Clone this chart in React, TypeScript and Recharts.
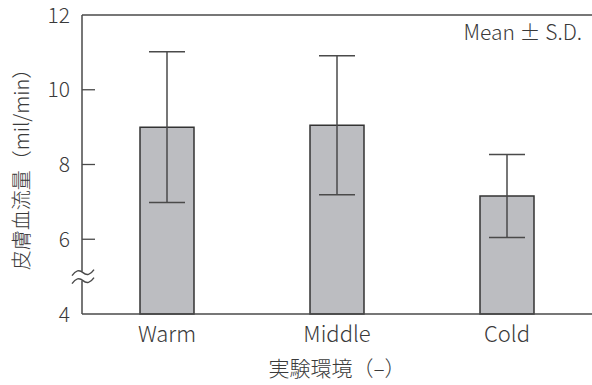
import React from "react";
import { BarChart, Bar, XAxis, YAxis, ErrorBar, ReferenceLine, Label } from "recharts";

// Skin blood flow by experimental environment (mean ± S.D.)
const conditions = ["Warm", "Middle", "Cold"];
const meanFlow = [9.0, 9.05, 7.16];
const sdFlow = [2.02, 1.86, 1.11];
const yTicks = [4, 5, 6, 8, 10, 12];
const breakTick = 5;

const data = conditions.map((name, i) => ({ name, mean: meanFlow[i], sd: sdFlow[i] }));

const FONT = "'Noto Sans CJK JP', 'Noto Sans', sans-serif";
const TEXT = "#3a3a3a";
const LINE = "#4a4a4a";
const TICK_MARGIN = 12;

const YTick = (props: any) => {
  const { x, y, payload } = props;
  const axisX = x + TICK_MARGIN;
  if (payload.value === breakTick) {
    // axis break marker: two waves with the axis cut between them
    const x0 = axisX - 10;
    const wave = (cy: number) =>
      `M ${x0} ${cy + 3} Q ${x0 + 5.5} ${cy - 5}, ${x0 + 11} ${cy} T ${x0 + 22} ${cy - 3}`;
    return (
      <g>
        <rect x={axisX - 3} y={y - 5} width={6} height={9} fill="#fff" />
        <path d={wave(y - 4)} fill="none" stroke={LINE} strokeWidth={1.4} />
        <path d={wave(y + 4)} fill="none" stroke={LINE} strokeWidth={1.4} />
      </g>
    );
  }
  const inner = payload.value !== 4 && payload.value !== 12;
  return (
    <g>
      {inner && <line x1={axisX} x2={axisX + 13} y1={y} y2={y} stroke={LINE} strokeWidth={1.3} />}
      <text x={x} y={y} dy="0.36em" textAnchor="end" fontSize={21} fontFamily={FONT} fontWeight={300} fill={TEXT}>
        {payload.value}
      </text>
    </g>
  );
};

const YTitle = (props: any) => {
  const { viewBox } = props;
  const cx = 20;
  const cy = viewBox.y + viewBox.height / 2;
  return (
    <text
      x={cx}
      y={cy}
      transform={`rotate(-90, ${cx}, ${cy})`}
      textAnchor="middle"
      dominantBaseline="central"
      fontSize={20}
      fontFamily={FONT}
      fontWeight={300}
      fill={TEXT}
    >
      皮膚血流量（mil/min）
    </text>
  );
};

export default function App() {
  return (
    <div style={{ position: "absolute", left: 0, top: 0, background: "#fff" }}>
      <BarChart width={592} height={385} data={data} margin={{ top: 15, right: 0, bottom: 0, left: 0 }}>
        <XAxis
          dataKey="name"
          height={71}
          tickSize={0}
          tickMargin={12}
          axisLine={{ stroke: LINE, strokeWidth: 1.5 }}
          tick={{ fontSize: 22, fontFamily: FONT, fontWeight: 300, fill: TEXT }}
        >
          <Label
            value="実験環境（–）"
            position="insideBottom"
            offset={9}
            fontSize={21}
            fontFamily={FONT}
            fontWeight={300}
            fill={TEXT}
          />
        </XAxis>
        <YAxis
          width={82}
          domain={[4, 12]}
          ticks={yTicks}
          interval={0}
          tickSize={0}
          tickMargin={TICK_MARGIN}
          tickLine={false}
          axisLine={{ stroke: LINE, strokeWidth: 1.5 }}
          tick={<YTick />}
        >
          <Label content={<YTitle />} />
        </YAxis>
        <ReferenceLine y={12} stroke={LINE} strokeWidth={1.5}>
          <Label
            value="Mean ± S.D."
            position="insideTopRight"
            offset={10}
            fontSize={21}
            fontFamily={FONT}
            fontWeight={300}
            fill={TEXT}
          />
        </ReferenceLine>
        <Bar dataKey="mean" barSize={54} fill="#bcbdc1" stroke="#333" strokeWidth={1.5} isAnimationActive={false}>
          <ErrorBar dataKey="sd" width={18} stroke={LINE} strokeWidth={1.5} />
        </Bar>
      </BarChart>
    </div>
  );
}
